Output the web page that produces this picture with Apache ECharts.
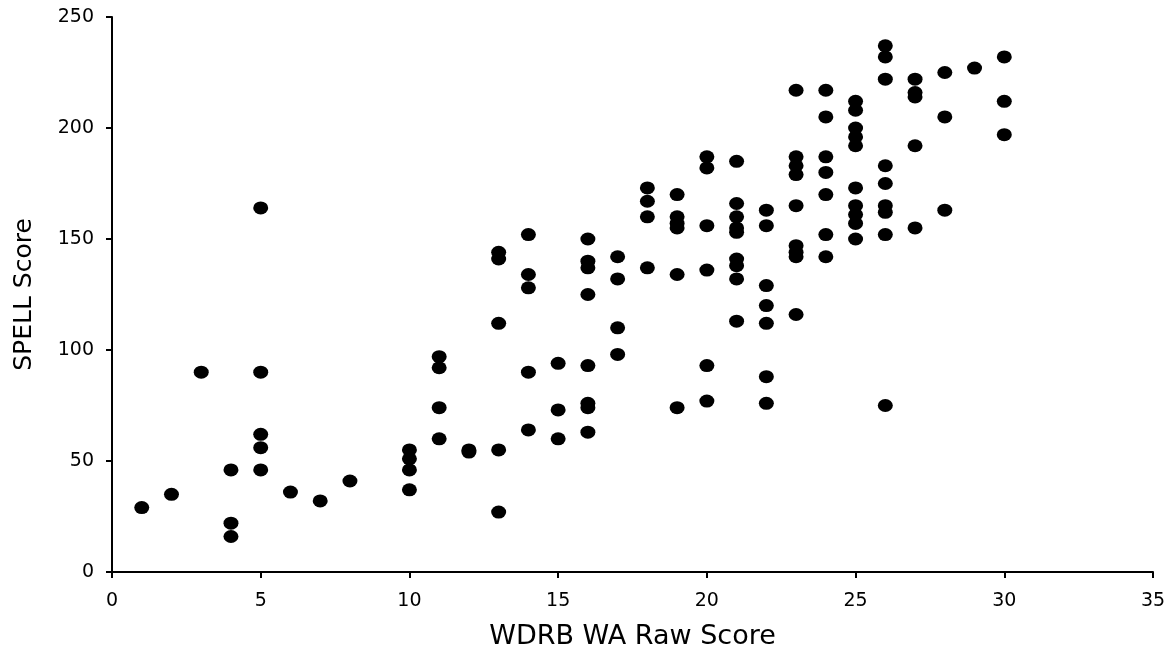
<!DOCTYPE html>
<html>
<head>
<meta charset="utf-8">
<script src="https://cdn.jsdelivr.net/npm/echarts@6/dist/echarts.min.js"></script>
<style>
  html, body { margin: 0; padding: 0; background: #fff; }
  #chart { width: 1169px; height: 655px; }
</style>
</head>
<body>
<div id="chart"></div>
<script>
// WDRB WA raw score (x) and SPELL score (y), one entry per student
var wdrbScore = [
  1, 2, 3, 4, 4, 4,
  5, 5, 5, 5, 5,
  6, 7, 8,
  10, 10, 10, 10,
  11, 11, 11, 11,
  12, 12,
  13, 13, 13, 13, 13,
  14, 14, 14, 14, 14,
  15, 15, 15,
  16, 16, 16, 16, 16, 16, 16, 16,
  17, 17, 17, 17,
  18, 18, 18, 18,
  19, 19, 19, 19, 19, 19,
  20, 20, 20, 20, 20, 20,
  21, 21, 21, 21, 21, 21, 21, 21, 21,
  22, 22, 22, 22, 22, 22, 22,
  23, 23, 23, 23, 23, 23, 23, 23, 23,
  24, 24, 24, 24, 24, 24, 24,
  25, 25, 25, 25, 25, 25, 25, 25, 25, 25,
  26, 26, 26, 26, 26, 26, 26, 26, 26,
  27, 27, 27, 27, 27,
  28, 28, 28,
  29,
  30, 30, 30
];
var spellScore = [
  29, 35, 90, 46, 22, 16,
  164, 90, 62, 56, 46,
  36, 32, 41,
  55, 51, 46, 37,
  97, 92, 74, 60,
  55, 54,
  144, 141, 112, 55, 27,
  152, 134, 128, 90, 64,
  94, 73, 60,
  150, 140, 137, 125, 93, 76, 74, 63,
  142, 132, 110, 98,
  173, 167, 160, 137,
  170, 160, 157, 155, 134, 74,
  187, 182, 156, 136, 93, 77,
  185, 166, 160, 155, 153, 141, 138, 132, 113,
  163, 156, 129, 120, 112, 88, 76,
  217, 187, 183, 179, 165, 147, 144, 142, 116,
  217, 205, 187, 180, 170, 152, 142,
  212, 208, 200, 196, 192, 173, 165, 161, 157, 150,
  237, 232, 222, 183, 175, 165, 162, 152, 75,
  222, 216, 214, 192, 155,
  225, 205, 163,
  227,
  232, 212, 197
];

var points = wdrbScore.map(function (x, i) { return [x, spellScore[i]] })

var font = 'DejaVu Sans, Liberation Sans, sans-serif'
var axisCommon = {
  axisLine: { show: true, onZero: false, lineStyle: { color: '#000', width: 2 } },
  axisTick: { show: true, inside: false, length: 6, lineStyle: { color: '#000', width: 2 } },
  splitLine: { show: false },
  nameLocation: 'middle'
}

var option = {
  animation: false,
  backgroundColor: '#fff',
  grid: { left: 112, right: 16, top: 17, bottom: 82 },
  xAxis: Object.assign({}, axisCommon, {
    type: 'value',
    min: 0,
    max: 35,
    interval: 5,
    name: 'WDRB WA Raw Score',
    nameGap: 51,
    nameTextStyle: { color: '#000', fontSize: 27, fontFamily: font },
    axisLabel: { color: '#000', fontSize: 19, fontFamily: font, margin: 20 }
  }),
  yAxis: Object.assign({}, axisCommon, {
    type: 'value',
    min: 0,
    max: 250,
    interval: 50,
    name: 'SPELL Score',
    nameGap: 75,
    nameTextStyle: { color: '#000', fontSize: 25, fontFamily: font },
    axisLabel: { color: '#000', fontSize: 19, fontFamily: font, margin: 18 }
  }),
  series: [{
    type: 'scatter',
    data: points,
    symbol: 'circle',
    symbolSize: [15, 13],
    itemStyle: { color: '#000', opacity: 1 }
  }]
}

var myChart = echarts.init(document.getElementById('chart'))
myChart.setOption(option)
</script>
</body>
</html>
